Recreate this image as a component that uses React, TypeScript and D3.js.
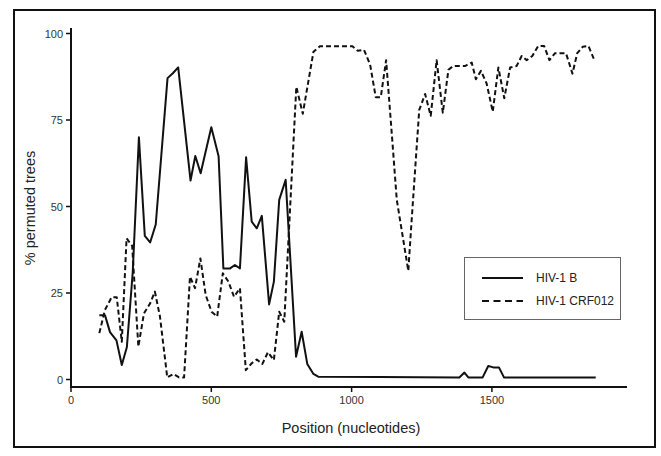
import React from "react";
import * as d3 from "d3";

// HIV-1 B (solid)
const bX = [101, 121, 139, 162, 181, 199, 220, 242, 263, 282, 302, 344, 363, 382, 426, 443, 462, 500, 526, 543, 567, 584, 602, 624, 644, 662, 680, 706, 723, 742, 765, 802, 822, 842, 864, 881, 1100, 1384, 1402, 1416, 1467, 1487, 1505, 1525, 1543, 1870];
const bY = [18.6, 18.6, 13.7, 11.3, 4.2, 9.3, 31, 70.0, 41.5, 39.6, 44.8, 87.1, 88.5, 90.2, 57.5, 64.6, 59.6, 72.9, 64.5, 32.1, 32.1, 33.1, 32.1, 64.2, 45.6, 43.7, 47.3, 21.7, 28.3, 51.9, 57.7, 6.6, 13.8, 4.5, 1.6, 0.8, 0.7, 0.6, 2.0, 0.6, 0.6, 3.9, 3.5, 3.5, 0.6, 0.6];

// HIV-1 CRF012 (dashed)
const cX = [101, 121, 145, 163, 181, 198, 218, 240, 260, 282, 299, 317, 343, 365, 385, 403, 424, 442, 461, 480, 501, 521, 541, 561, 581, 602, 623, 644, 662, 682, 702, 723, 742, 760, 803, 826, 864, 887, 1003, 1022, 1044, 1066, 1086, 1104, 1123, 1143, 1161, 1202, 1214, 1241, 1262, 1282, 1303, 1325, 1345, 1362, 1404, 1428, 1443, 1461, 1481, 1503, 1523, 1544, 1565, 1588, 1606, 1624, 1644, 1665, 1686, 1705, 1725, 1764, 1787, 1804, 1824, 1844, 1864];
const cY = [13.4, 20.1, 23.8, 23.8, 10.9, 40.8, 38.6, 9.5, 19.1, 22.0, 25.4, 18.2, 0.6, 1.6, 0.6, 0.6, 29.7, 26.4, 35.0, 24.4, 19.6, 18.2, 30.7, 28.3, 23.9, 26.4, 2.7, 4.7, 5.8, 4.5, 7.9, 5.6, 19.6, 16.7, 84.6, 76.8, 94.7, 96.3, 96.3, 95.0, 95.3, 91.0, 81.6, 81.6, 92.3, 71.2, 51.9, 31.4, 46.1, 77.9, 82.5, 76.2, 92.3, 77.1, 89.5, 90.6, 90.6, 91.6, 86.8, 89.2, 85.6, 77.4, 90.2, 81.3, 90.2, 90.6, 93.5, 92.3, 93.5, 96.4, 96.4, 92.3, 94.3, 94.3, 88.4, 94.3, 96.2, 96.4, 92.5];

const xTicks = [0, 500, 1000, 1500];
const yTicks = [0, 25, 50, 75, 100];
const seriesNames = ["HIV-1 B", "HIV-1 CRF012"];

const W = 661;
const H = 456;
const FONT = "'Liberation Sans', Arial, sans-serif";

export default function App() {
  const x = d3.scaleLinear().domain([0, 1975]).range([71, 625.2]);
  const y = d3.scaleLinear().domain([0, 100]).range([379.5, 33.5]);
  const axisTop = 28;
  const axisY = 387;
  const xEnd = 627;

  const line = d3
    .line<[number, number]>()
    .x((d) => x(d[0]))
    .y((d) => y(d[1]));

  const bPts = bX.map((v, i) => [v, bY[i]] as [number, number]);
  const cPts = cX.map((v, i) => [v, cY[i]] as [number, number]);

  return (
    <svg
      width={W}
      height={H}
      style={{ position: "absolute", left: 0, top: 0, background: "#fff" }}
      fontFamily={FONT}
    >
      <rect x={0} y={0} width={W} height={H} fill="#fff" />
      <rect x={14} y={10} width={641} height={437} fill="none" stroke="#111" strokeWidth={2} />

      {/* axes */}
      <line x1={71} y1={axisTop} x2={71} y2={axisY} stroke="#111" strokeWidth={2} />
      <line x1={70} y1={axisY} x2={xEnd} y2={axisY} stroke="#111" strokeWidth={2} />

      {yTicks.map((t) => (
        <g key={"y" + t}>
          <line x1={66} x2={71} y1={y(t)} y2={y(t)} stroke="#111" strokeWidth={1.5} />
          <text x={63} y={y(t) + 4} textAnchor="end" fontSize={11} fill="#333">
            {t}
          </text>
        </g>
      ))}
      {xTicks.map((t) => (
        <g key={"x" + t}>
          <line x1={x(t)} x2={x(t)} y1={axisY} y2={axisY + 5} stroke="#111" strokeWidth={1.5} />
          <text x={x(t)} y={404} textAnchor="middle" fontSize={11} fill="#333">
            {t}
          </text>
        </g>
      ))}

      <text x={351} y={433} textAnchor="middle" fontSize={14.5} fill="#222">
        Position (nucleotides)
      </text>
      <text
        transform={`translate(35,208) rotate(-90)`}
        textAnchor="middle"
        fontSize={14.5}
        fill="#222"
      >
        % permuted trees
      </text>

      {/* series */}
      <path d={line(cPts) || ""} fill="none" stroke="#111" strokeWidth={2} strokeDasharray="5,3" strokeLinejoin="round" />
      <path d={line(bPts) || ""} fill="none" stroke="#111" strokeWidth={2} strokeLinejoin="round" />

      {/* legend */}
      <rect x={464.5} y={257.5} width={156} height={62} fill="#fff" stroke="#666" strokeWidth={1} />
      <line x1={482} x2={523} y1={278} y2={278} stroke="#111" strokeWidth={2} />
      <line x1={482} x2={523} y1={301} y2={301} stroke="#111" strokeWidth={2} strokeDasharray="7,4.5" />
      <text x={536} y={282} fontSize={12} fill="#222">
        {seriesNames[0]}
      </text>
      <text x={536} y={305} fontSize={12} fill="#222">
        {seriesNames[1]}
      </text>
    </svg>
  );
}
